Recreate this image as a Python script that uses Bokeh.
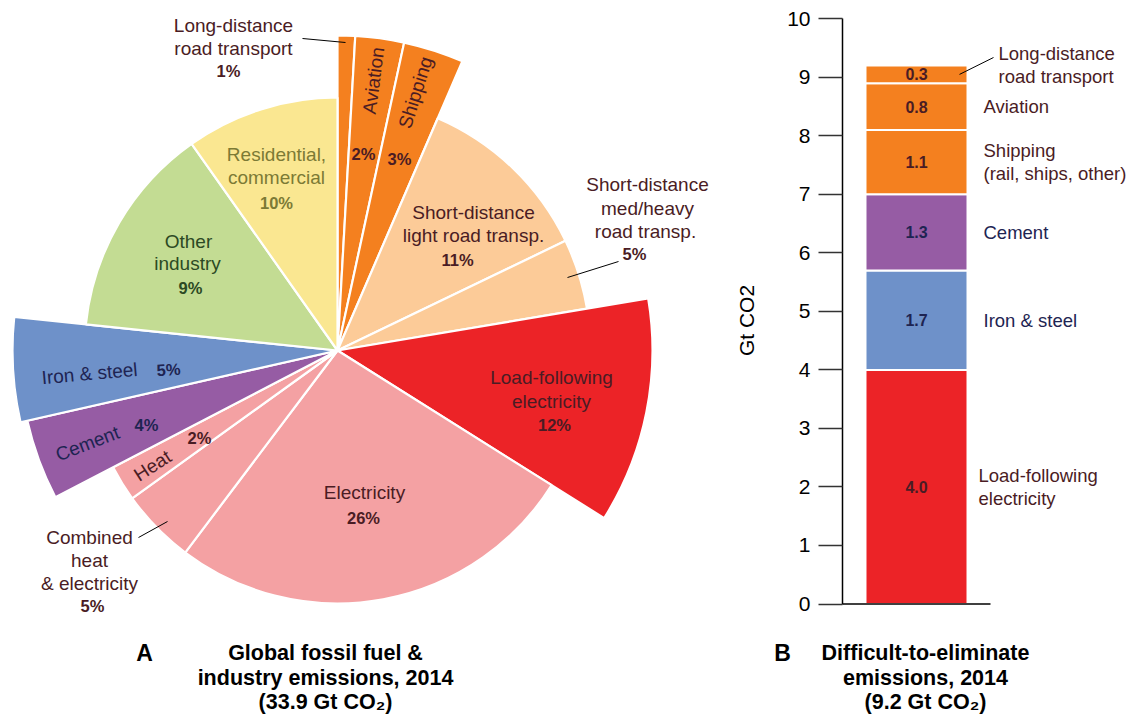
import numpy as np
from bokeh.plotting import figure
from bokeh.models import Range1d, FixedTicker, ColumnDataSource
from bokeh.layouts import row, column
from bokeh.embed import file_html
from bokeh.resources import INLINE
from bokeh.core.properties import value

# ---------------- DATA ----------------
# Panel A: global fossil fuel & industry emissions 2014 (33.9 Gt CO2)
pie_categories = [
    "Long-distance road transport", "Aviation", "Shipping",
    "Short-distance light road transp.", "Short-distance med/heavy road transp.",
    "Load-following electricity", "Electricity", "Combined heat & electricity",
    "Heat", "Cement", "Iron & steel", "Other industry", "Residential, commercial",
]
# angular shares (%) as drawn in the figure
pie_shares = [0.9, 2.5, 3.1, 11.4, 4.5, 11.6, 26.4, 4.8, 2.3, 4.1, 5.2, 13.6, 9.8]
# printed percentage labels
pie_pct_labels = ["1%", "2%", "3%", "11%", "5%", "12%", "26%", "5%", "2%", "4%", "5%", "9%", "10%"]

# Panel B: difficult-to-eliminate emissions 2014 (9.2 Gt CO2), bottom to top
bar_categories = ["Load-following electricity", "Iron & steel", "Cement",
                  "Shipping", "Aviation", "Long-distance road transport"]
bar_values = [4.0, 1.7, 1.3, 1.1, 0.8, 0.3]
bar_side_labels = [["Load-following", "electricity"], ["Iron & steel"], ["Cement"],
                   ["Shipping", "(rail, ships, other)"], ["Aviation"],
                   ["Long-distance", "road transport"]]
y_ticks = [0, 1, 2, 3, 4, 5, 6, 7, 8, 9, 10]

title_a = ["Global fossil fuel &", "industry emissions, 2014", "(33.9 Gt CO\u2082)"]
title_b = ["Difficult-to-eliminate", "emissions, 2014", "(9.2 Gt CO\u2082)"]
y_axis_label = "Gt CO2"

# ---------------- STYLE ----------------
FONT = "Liberation Sans"
ORANGE = "#f4801f"
PEACH = "#fccb98"
RED = "#ec2327"
PINK = "#f4a1a3"
PURPLE = "#965ca4"
BLUE = "#6e91c9"
GREEN = "#c3dc93"
YELLOW = "#fae791"
MAROON = "#4a1c24"
OLIVE = "#7c7a35"
DKGREEN = "#2c4a24"
NAVY = "#1e2452"

pie_colors = [ORANGE, ORANGE, ORANGE, PEACH, PEACH, RED, PINK, PINK, PINK,
              PURPLE, BLUE, GREEN, YELLOW]
R, RX = 253, 315
pie_radius = [RX, RX, RX, R, R, RX, R, R, R, 318, 325, R, R]
pie_text_colors = [MAROON, MAROON, MAROON, MAROON, MAROON, MAROON, MAROON, MAROON,
                   MAROON, NAVY, NAVY, DKGREEN, OLIVE]

# reference-pixel layout (x, y in page pixels) for pie labels; "{pct}" = percentage label
pie_label_layout = [
    [("Long-distance", 233, 25, 0), ("road transport", 233, 48, 0), ("{pct}", 228, 70, 0)],
    [("Aviation", 373, 80, 82.5), ("{pct}", 363, 153, 0)],
    [("Shipping", 415, 92, 72.5), ("{pct}", 399, 158, 0)],
    [("Short-distance", 473, 212, 0), ("light road transp.", 473, 235, 0), ("{pct}", 457, 259, 0)],
    [("Short-distance", 647, 184, 0), ("med/heavy", 647, 208, 0), ("road transp.", 645, 231, 0), ("{pct}", 634, 253, 0)],
    [("Load-following", 551, 377, 0), ("electricity", 551, 401, 0), ("{pct}", 554, 424, 0)],
    [("Electricity", 364, 492, 0), ("{pct}", 363, 517, 0)],
    [("Combined", 89, 537, 0), ("heat", 89, 560, 0), ("& electricity", 89, 583, 0), ("{pct}", 92, 605, 0)],
    [("Heat", 152, 465, 33), ("{pct}", 199, 437, 0)],
    [("Cement", 87, 443, 21), ("{pct}", 146, 424, 0)],
    [("Iron & steel", 89, 373, 5), ("{pct}", 168, 369, 4)],
    [("Other", 188, 241, 0), ("industry", 187, 263, 0), ("{pct}", 190, 287, 0)],
    [("Residential,", 276, 154, 0), ("commercial", 276, 177, 0), ("{pct}", 276, 202, 0)],
]
pie_leaders = [((302, 38), (345, 42)), ((567, 277), (618, 261)), ((138, 537), (167, 521))]

W, H = 1131, 716
TOP_H = 640               # height of the two chart panels; titles go below
PIE_W = 728
CX, CY = 337, 350         # pie centre (page pixels)
TITLE_Y = [652, 677, 701]  # title line centres (page pixels)


def P(ix, iy):
    return ix, TOP_H - iy


# ---------------- PANEL A ----------------
pie = figure(width=PIE_W, height=TOP_H, x_range=Range1d(0, PIE_W), y_range=Range1d(0, TOP_H),
             output_backend="svg", toolbar_location=None,
             x_axis_location=None, y_axis_location=None, min_border=0)
pie.grid.visible = False
pie.outline_line_color = None

shares = np.array(pie_shares, dtype=float)
frac = shares / shares.sum()
cum = np.concatenate([[0], np.cumsum(frac)])
a_top = np.pi / 2 - cum[:-1] * 2 * np.pi
a_bot = np.pi / 2 - cum[1:] * 2 * np.pi
cx, cy = P(CX, CY)
wsrc = ColumnDataSource(dict(x=[cx] * len(shares), y=[cy] * len(shares), r=pie_radius,
                             start=a_bot, end=a_top, color=pie_colors))
pie.wedge(x="x", y="y", radius="r", start_angle="start", end_angle="end",
          fill_color="color", line_color="white", line_width=2.2, source=wsrc)

reg = dict(x=[], y=[], t=[], a=[], c=[])
bold = dict(x=[], y=[], t=[], a=[], c=[])
for i, items in enumerate(pie_label_layout):
    for (txt, ix, iy, ang) in items:
        x, y = P(ix, iy)
        d = bold if txt == "{pct}" else reg
        d["x"].append(x); d["y"].append(y)
        d["t"].append(pie_pct_labels[i] if txt == "{pct}" else txt)
        d["a"].append(ang); d["c"].append(pie_text_colors[i])

pie.text(x="x", y="y", text="t", angle="a", angle_units="deg", text_color="c",
         text_font=value(FONT), text_font_size="19px", text_align="center",
         text_baseline="middle", source=ColumnDataSource(reg))
pie.text(x="x", y="y", text="t", angle="a", angle_units="deg", text_color="c",
         text_font=value(FONT), text_font_size="16.5px", text_font_style="bold",
         text_align="center", text_baseline="middle", source=ColumnDataSource(bold))

for (a, b) in pie_leaders:
    x0, y0 = P(*a); x1, y1 = P(*b)
    pie.segment(x0=x0, y0=y0, x1=x1, y1=y1, line_color="black", line_width=1)

# ---------------- PANEL B ----------------
RIGHT_W = W - PIE_W                # 403
AXIS_X = 842                       # page x of y-axis line
Y0, Y10 = 603.5, 18.3              # page y of 0 and 10
ppu = (Y0 - Y10) / 10.0
y_top = 10 + Y10 / ppu
y_bot = -(TOP_H - Y0) / ppu
frame_w = W - AXIS_X

bar = figure(width=RIGHT_W, height=TOP_H, x_range=Range1d(0, frame_w), y_range=Range1d(y_bot, y_top),
             output_backend="svg", toolbar_location=None, x_axis_location=None,
             min_border_left=AXIS_X - PIE_W, min_border_right=0,
             min_border_top=0, min_border_bottom=0)
bar.grid.visible = False
bar.outline_line_color = None

yax = bar.yaxis[0]
yax.bounds = (0, 10)
yax.ticker = FixedTicker(ticks=y_ticks)
yax.major_tick_out = 24
yax.major_tick_in = 0
yax.minor_tick_out = 0
yax.minor_tick_in = 0
yax.axis_line_color = "black"
yax.axis_line_width = 1.5
yax.major_tick_line_color = "#333333"
yax.major_tick_line_width = 1.5
yax.major_label_text_font = FONT
yax.major_label_text_font_size = "21px"
yax.major_label_text_color = "black"
yax.major_label_standoff = 8
yax.axis_label = y_axis_label
yax.axis_label_text_font = FONT
yax.axis_label_text_font_size = "21px"
yax.axis_label_text_font_style = "normal"
yax.axis_label_text_color = "black"
yax.axis_label_standoff = 26

bar_colors = [RED, BLUE, PURPLE, ORANGE, ORANGE, ORANGE]
bar_text_colors = [MAROON, NAVY, NAVY, MAROON, MAROON, MAROON]
vals = np.array(bar_values)
tops = np.cumsum(vals)
bottoms = tops - vals
mids = (tops + bottoms) / 2
BX, BWID = 916 - AXIS_X, 102       # bar centre / width in frame pixels

bar.vbar(x=BX, width=BWID, bottom=bottoms, top=tops, fill_color=bar_colors,
         line_color="white", line_width=2)
bar.segment(x0=0, y0=0, x1=990 - AXIS_X, y1=0, line_color="black", line_width=1.5)

bar.text(x=[BX] * len(vals), y=mids, text=[f"{v:.1f}" for v in bar_values],
         text_color=bar_text_colors, text_font=value(FONT), text_font_size="16px",
         text_font_style="bold", text_align="center", text_baseline="middle")

# side labels (left aligned)
lx, ly, lt, lc = [], [], [], []
line_step = 23 / ppu
for i, lines in enumerate(bar_side_labels):
    n = len(lines)
    centre = mids[i]
    xoff = 983 - AXIS_X
    if i == 0:
        xoff = 978 - AXIS_X
    if i == len(bar_side_labels) - 1:   # leader-line label, placed above
        centre = mids[i] + 9 / ppu
        xoff = 998 - AXIS_X
    for k, s in enumerate(lines):
        lx.append(xoff)
        ly.append(centre + ((n - 1) / 2 - k) * line_step)
        lt.append(s)
        lc.append(bar_text_colors[i])
bar.text(x=lx, y=ly, text=lt, text_color=lc, text_font=value(FONT), text_font_size="18.5px",
         text_align="left", text_baseline="middle")
# leader for long-distance road transport
bar.segment(x0=959 - AXIS_X, y0=mids[-1], x1=993 - AXIS_X, y1=(Y0 - 57) / ppu,
            line_color="black", line_width=1)

# ---------------- panel titles (full-width strip below both charts) ----------------
TH = H - TOP_H
tfig = figure(width=W, height=TH, x_range=Range1d(0, W), y_range=Range1d(0, TH),
              output_backend="svg", toolbar_location=None,
              x_axis_location=None, y_axis_location=None, min_border=0)
tfig.grid.visible = False
tfig.outline_line_color = None
tfig.text(x=[144, 782], y=[H - TITLE_Y[0]] * 2, text=["A", "B"], text_font=value(FONT),
          text_font_size="23px", text_font_style="bold", text_align="center",
          text_baseline="middle", text_color="black")
tfig.text(x=[325] * 3 + [925] * 3, y=[H - t for t in TITLE_Y] * 2, text=title_a + title_b,
          text_font=value(FONT), text_font_size="21.5px", text_font_style="bold",
          text_align="center", text_baseline="middle", text_color="black")

layout = column(row(pie, bar), tfig)
open("out.html", "w").write(file_html(layout, INLINE))
